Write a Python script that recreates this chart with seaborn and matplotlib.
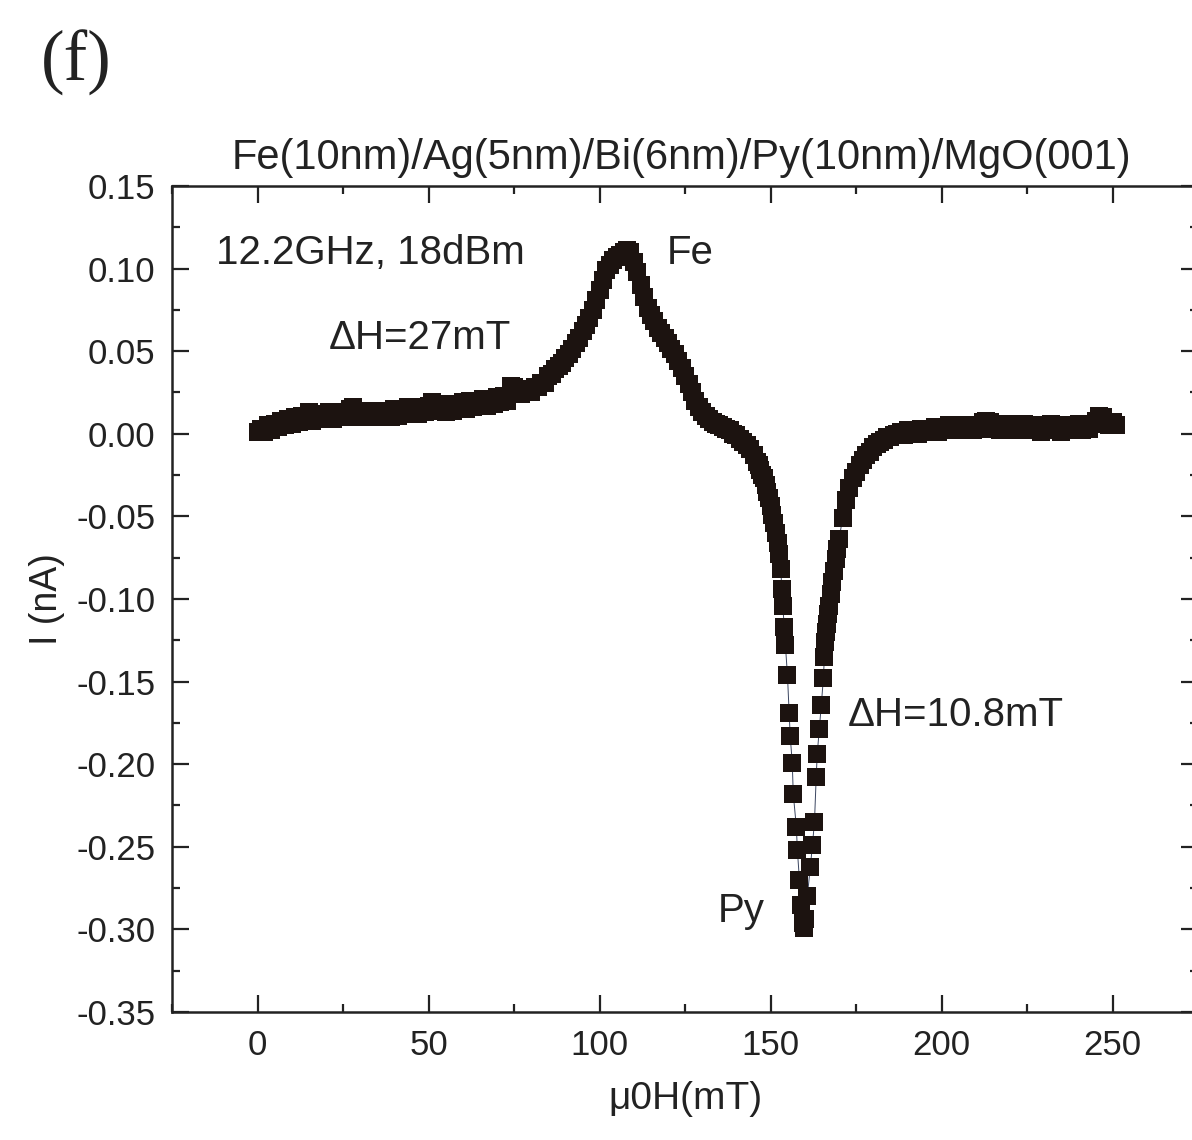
import numpy as np
import pandas as pd
import matplotlib
matplotlib.use("Agg")
import matplotlib.pyplot as plt
from matplotlib.ticker import MultipleLocator, FormatStrFormatter
import seaborn as sns

# field (mT) and DC current (nA), in four stretches

# flat part before the Fe resonance (scatter of the raw points kept)
field_a = [0, 1, 2, 3, 4, 5, 6, 7, 8, 9,
           10, 11, 12, 13, 14, 15, 16, 17, 18, 19,
           20, 21, 22, 23, 24, 25, 26, 27, 28, 29,
           30, 31, 32, 33, 34, 35, 36, 37, 38, 39,
           40, 41, 42, 43, 44, 45, 46, 47, 48, 49,
           50, 51, 52, 53, 54, 55, 56, 57, 58, 59,
           60, 61, 62, 63, 64, 65, 66, 67, 68, 69,
           70, 71, 72, 73, 74, 75, 76, 77, 78, 79,
           80, 81, 82, 83, 84, 85, 86, 87, 88]
current_a = [0.001, 0.003, 0.001, 0.005, 0.002, 0.006, 0.004, 0.008, 0.005, 0.009,
             0.006, 0.010, 0.007, 0.011, 0.008, 0.013, 0.008, 0.012, 0.009, 0.011,
             0.009, 0.013, 0.009, 0.013, 0.010, 0.012, 0.010, 0.015, 0.016, 0.011,
             0.014, 0.010, 0.014, 0.011, 0.013, 0.010, 0.014, 0.011, 0.013, 0.010,
             0.015, 0.011, 0.015, 0.012, 0.016, 0.012, 0.015, 0.012, 0.016, 0.013,
             0.017, 0.019, 0.018, 0.014, 0.017, 0.013, 0.018, 0.014, 0.017, 0.015,
             0.019, 0.015, 0.020, 0.016, 0.020, 0.017, 0.021, 0.017, 0.021, 0.018,
             0.022, 0.019, 0.023, 0.020, 0.029, 0.028, 0.026, 0.024, 0.025, 0.027,
             0.025, 0.028, 0.028, 0.031, 0.031, 0.035, 0.036, 0.039, 0.041]

# Fe peak and shoulder
field_b = [89, 90, 91, 92, 93, 94, 95, 96, 97, 98,
           99, 100, 101, 102, 103, 104, 105, 106, 107, 108,
           109, 110, 111, 112, 113, 114, 115, 116, 117, 118,
           119, 120, 121, 122, 123, 124, 125, 126, 127, 128,
           129, 130, 131, 132, 133, 134, 135, 136, 137, 138,
           139, 140, 141, 142, 143, 144, 145]
current_b = [0.043, 0.046, 0.048, 0.051, 0.055, 0.058, 0.062, 0.066, 0.070, 0.075,
             0.081, 0.087, 0.093, 0.099, 0.102, 0.105, 0.107, 0.108, 0.110, 0.111,
             0.110, 0.104, 0.098, 0.090, 0.083, 0.076, 0.072, 0.068, 0.064, 0.061,
             0.058, 0.055, 0.051, 0.048, 0.044, 0.040, 0.035, 0.030, 0.025, 0.020,
             0.016, 0.013, 0.011, 0.009, 0.007, 0.006, 0.005, 0.004, 0.003, 0.002,
             0.000, -0.001, -0.003, -0.005, -0.007, -0.009, -0.013]

# Py dip
field_c = [146, 146.5, 147, 147.5, 148, 148.5, 149, 149.5, 150, 150.5,
           151, 151.5, 152, 152.5, 153, 153.2, 153.5, 154.0, 154.3, 154.9,
           155.4, 155.7, 156.3, 156.6, 157.5, 157.8, 158.4, 159.0, 159.3, 159.7,
           160.1, 160.7, 161.6, 162.2, 162.8, 163.3, 163.6, 164.2, 164.8, 165.4,
           165.7, 166.0, 166.3, 166.5, 166.8, 167, 167.5, 168, 168.5, 169,
           169.5, 170, 171, 172, 173, 174, 175, 176, 177]
current_c = [-0.017, -0.019, -0.022, -0.025, -0.027, -0.031, -0.035, -0.039, -0.044, -0.049,
             -0.054, -0.060, -0.066, -0.073, -0.082, -0.094, -0.104, -0.117, -0.128, -0.146,
             -0.169, -0.183, -0.199, -0.218, -0.238, -0.252, -0.270, -0.285, -0.296, -0.299,
             -0.294, -0.280, -0.262, -0.249, -0.235, -0.208, -0.194, -0.179, -0.164, -0.148,
             -0.135, -0.126, -0.120, -0.115, -0.109, -0.104, -0.097, -0.090, -0.083, -0.076,
             -0.070, -0.064, -0.051, -0.040, -0.033, -0.027, -0.023, -0.019, -0.016]

# flat tail
field_d = [178, 179, 180, 181, 182, 183, 184, 185, 186, 187,
           188, 189, 190, 191, 192, 193, 194, 195, 196, 197,
           198, 199, 200, 201, 202, 203, 204, 205, 206, 207,
           208, 209, 210, 211, 212, 213, 214, 215, 216, 217,
           218, 219, 220, 221, 222, 223, 224, 225, 226, 227,
           228, 229, 230, 231, 232, 233, 234, 235, 236, 237,
           238, 239, 240, 241, 242, 243, 244, 245, 246, 247,
           248, 249, 250, 251]
current_d = [-0.013, -0.011, -0.008, -0.006, -0.005, -0.004, -0.002, -0.002, -0.001, 0.000,
             0.001, -0.001, 0.002, 0.000, 0.002, 0.000, 0.003, 0.001, 0.003, 0.001,
             0.004, 0.001, 0.004, 0.002, 0.005, 0.002, 0.005, 0.002, 0.004, 0.002,
             0.005, 0.002, 0.005, 0.003, 0.007, 0.008, 0.007, 0.003, 0.006, 0.002,
             0.005, 0.002, 0.006, 0.003, 0.005, 0.002, 0.006, 0.002, 0.005, 0.002,
             0.005, 0.001, 0.005, 0.002, 0.006, 0.002, 0.005, 0.001, 0.005, 0.002,
             0.005, 0.002, 0.006, 0.002, 0.005, 0.003, 0.006, 0.008, 0.011, 0.010,
             0.006, 0.005, 0.007, 0.005]

df = pd.DataFrame({"H": field_a + field_b + field_c + field_d,
                   "I": current_a + current_b + current_c + current_d})

sns.set_theme(style="ticks")
plt.rcParams["font.family"] = ["Liberation Sans", "DejaVu Sans"]

fig = plt.figure(figsize=(11.92, 11.4), dpi=100)
ax = fig.add_axes([0.1443, 0.1123, 0.861, 0.7246])

ink = "#1c1310"
txt = "#222222"
sns.lineplot(data=df, x="H", y="I", ax=ax, color="#3a4560", linewidth=0.7, zorder=2)
sns.scatterplot(data=df, x="H", y="I", ax=ax, marker="s", s=180, color=ink,
                linewidth=0, zorder=3)

ax.set_xlim(-25, 275)
ax.set_ylim(-0.35, 0.15)
ax.xaxis.set_major_locator(MultipleLocator(50))
ax.xaxis.set_minor_locator(MultipleLocator(25))
ax.yaxis.set_major_locator(MultipleLocator(0.05))
ax.yaxis.set_minor_locator(MultipleLocator(0.025))
ax.yaxis.set_major_formatter(FormatStrFormatter("%.2f"))
ax.tick_params(which="both", direction="in", top=True, right=True, colors=txt,
               labelcolor=txt)
ax.tick_params(which="major", length=12, width=1.6, labelsize=25, pad=12)
ax.tick_params(which="minor", length=6, width=1.6)
for sp in ax.spines.values():
    sp.set_linewidth(1.8)
    sp.set_color(txt)

ax.set_xlabel("μ0H(mT)", fontsize=28, labelpad=14, color=txt)
ax.set_ylabel("I (nA)", fontsize=27, labelpad=8, color=txt)
ax.set_title("Fe(10nm)/Ag(5nm)/Bi(6nm)/Py(10nm)/MgO(001)", fontsize=30, pad=12,
             color=txt, x=0.496)

ax.text(-12, 0.103, "12.2GHz, 18dBm", fontsize=29, va="baseline", color=txt)
ax.text(119.7, 0.103, "Fe", fontsize=29, va="baseline", color=txt)
ax.text(20.8, 0.0515, "ΔH=27mT", fontsize=29, va="baseline", color=txt)
ax.text(172.4, -0.177, "ΔH=10.8mT", fontsize=29, va="baseline", color=txt)
ax.text(134.4, -0.2954, "Py", fontsize=29, va="baseline", color=txt)

fig.text(0.064, 0.945, "(f)", fontsize=51, family="Liberation Serif", ha="center",
         va="center", color=txt)

fig.savefig("out.png", dpi=100)
